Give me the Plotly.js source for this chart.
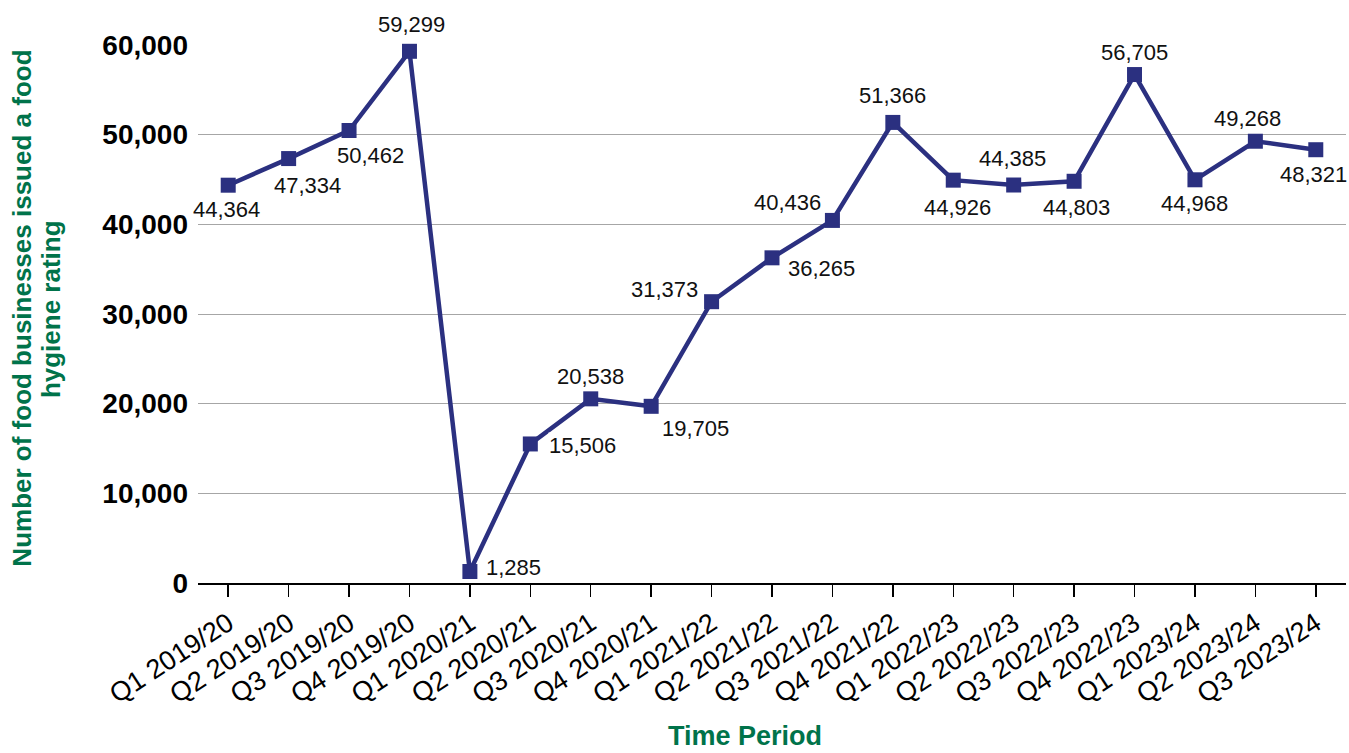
<!DOCTYPE html>
<html>
<head>
<meta charset="utf-8">
<script src="https://cdn.plot.ly/plotly-3.0.1.min.js"></script>
<style>html,body{margin:0;padding:0;background:#fff;}#chart{width:1349px;height:753px;}</style>
</head>
<body>
<div id="chart"></div>
<script>
const periods = ["Q1 2019/20","Q2 2019/20","Q3 2019/20","Q4 2019/20","Q1 2020/21","Q2 2020/21","Q3 2020/21","Q4 2020/21","Q1 2021/22","Q2 2021/22","Q3 2021/22","Q4 2021/22","Q1 2022/23","Q2 2022/23","Q3 2022/23","Q4 2022/23","Q1 2023/24","Q2 2023/24","Q3 2023/24"];
const ratings = [44364,47334,50462,59299,1285,15506,20538,19705,31373,36265,40436,51366,44926,44385,44803,56705,44968,49268,48321];
const yTicks = [0,10000,20000,30000,40000,50000,60000];
const yTitleLines = ["Number of food businesses issued a food","hygiene rating"];
const xTitle = "Time Period";

// label placement offsets (px): [xshift, yshift]
const labelShift = [[-2,-24],[19,-27],[21,-25],[2,27],[44,4],[52,-2],[0,22],[44,-22],[-47,12],[49,-11],[-45,18],[0,27],[4,-27],[-1,27],[2,-26],[0,22],[0,-24],[-8,23],[-2,-25]];

const navy = "#2B3080";
const green = "#00734A";
const fontFam = "Liberation Sans, Arial, Helvetica, sans-serif";

const annotations = ratings.map((v,i)=>({
  x: periods[i], y: v, xref:'x', yref:'y',
  text: v.toLocaleString('en-GB'),
  showarrow:false, xanchor:'center', yanchor:'middle',
  xshift: labelShift[i][0], yshift: labelShift[i][1],
  bgcolor:'rgba(255,255,255,1)', borderpad:0,
  font:{family:fontFam, size:22, color:'#111'}
}));
const yTitleX = [-0.1533, -0.1285];
yTitleLines.forEach((t,i)=>annotations.push({
  xref:'paper', yref:'paper', x:yTitleX[i], y:0.51,
  text:t, textangle:-90, showarrow:false, xanchor:'center', yanchor:'middle',
  font:{family:fontFam, size:26, color:green, weight:'bold'}
}));
annotations.push({
  xref:'paper', yref:'paper', x:0.4765, y:-0.284,
  text:xTitle, showarrow:false, xanchor:'center', yanchor:'middle',
  font:{family:fontFam, size:27, color:green, weight:'bold'}
});

const trace = {
  x: periods, y: ratings, type:'scatter', mode:'lines+markers',
  line:{color:navy, width:4.5},
  marker:{symbol:'square', size:15, color:navy},
  cliponaxis:false, hoverinfo:'x+y'
};

const layout = {
  width:1349, height:753,
  margin:{l:198, r:3, t:45, b:170},
  paper_bgcolor:'#fff', plot_bgcolor:'#fff',
  showlegend:false,
  xaxis:{
    type:'category', range:[-0.5,18.5],
    showline:true, linecolor:'#000', linewidth:2,
    ticks:'outside', ticklen:12, tickcolor:'#000', tickwidth:1.5,
    tickangle:-33, showgrid:false, zeroline:false,
    tickfont:{family:fontFam, size:27, color:'#000'}
  },
  yaxis:{
    range:[0,60000], tickvals:yTicks, tickformat:',',
    showgrid:true, gridcolor:'#A6A6A6', gridwidth:1,
    zeroline:false, showline:false, ticks:'',
    tickfont:{family:fontFam, size:28, color:'#000', weight:'bold'},
    ticklabelstandoff:9
  },
  annotations: annotations
};

Plotly.newPlot('chart',[trace],layout,{displayModeBar:false, staticPlot:true});
</script>
</body>
</html>
